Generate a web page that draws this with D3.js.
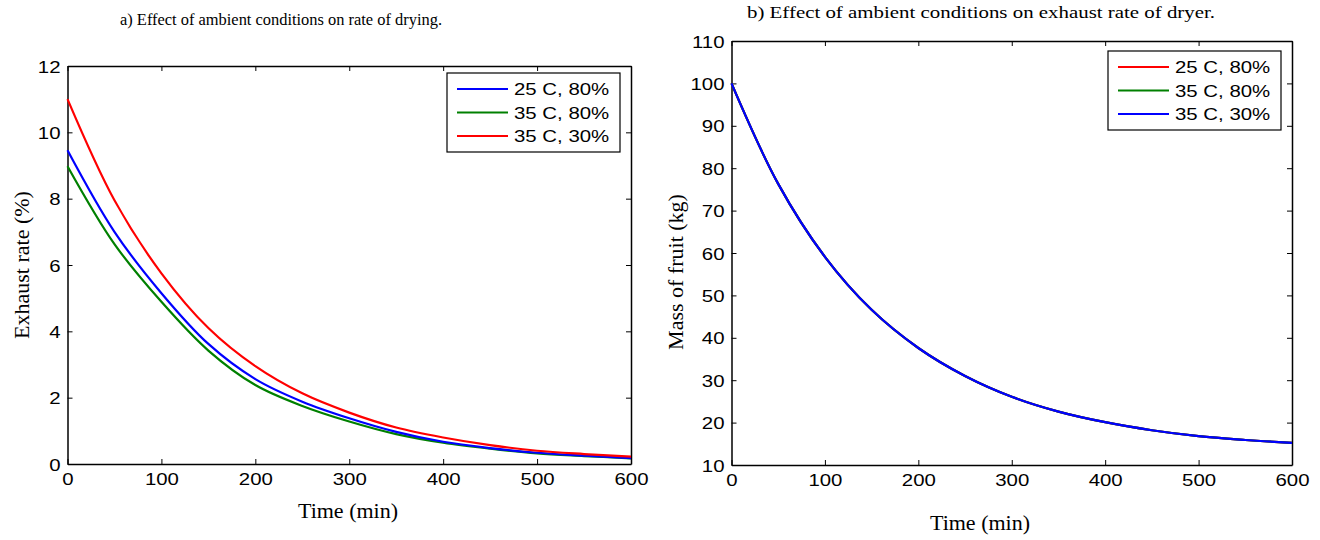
<!DOCTYPE html>
<html>
<head>
<meta charset="utf-8">
<script src="https://cdn.jsdelivr.net/npm/d3@7"></script>
<style>
  body { margin: 0; background: #fff; }
  svg { display: block; }
  .serif { font-family: "Times New Roman", "Liberation Serif", serif; fill: #000; }
  .sans { font-family: Arial, "Liberation Sans", sans-serif; fill: #000; }
</style>
</head>
<body>
<div id="chart"></div>
<script>
const timeMin = [0, 50, 100, 150, 200, 250, 300, 350, 400, 450, 500, 550, 600];

// a) exhaust rate (%)
const rate25C80 = [9.46, 7.0, 5.15, 3.62, 2.56, 1.88, 1.38, 0.97, 0.67, 0.48, 0.34, 0.25, 0.18];
const rate35C80 = [8.98, 6.63, 4.89, 3.42, 2.38, 1.75, 1.28, 0.90, 0.64, 0.46, 0.32, 0.24, 0.17];
const rate35C30 = [11.0, 7.95, 5.75, 4.10, 2.95, 2.13, 1.55, 1.10, 0.80, 0.57, 0.40, 0.30, 0.22];

// b) mass of fruit (kg) - the three runs lie on top of each other
const mass25C80 = [100, 76.3, 59.1, 46.6, 37.6, 31.0, 26.1, 22.6, 20.1, 18.2, 16.8, 15.9, 15.2];
const mass35C80 = [100, 76.3, 59.1, 46.6, 37.6, 31.0, 26.1, 22.6, 20.1, 18.2, 16.8, 15.9, 15.2];
const mass35C30 = [100, 76.3, 59.1, 46.6, 37.6, 31.0, 26.1, 22.6, 20.1, 18.2, 16.8, 15.9, 15.2];

const xTicks = [0, 100, 200, 300, 400, 500, 600];
const rateTicks = [0, 2, 4, 6, 8, 10, 12];
const massTicks = [10, 20, 30, 40, 50, 60, 70, 80, 90, 100, 110];

const width = 1320, height = 540;
const stretch = 1.2; // the source picture is a bit wider than tall

const svg = d3.select("#chart").append("svg")
    .attr("width", width)
    .attr("height", height);

// text squeezed/stretched horizontally around its anchor
function wideText(sel, x, y, txt, size, anchor) {
    return sel.append("text").attr("class", "sans")
        .attr("transform", `translate(${x},${y}) scale(${stretch},1)`)
        .attr("text-anchor", anchor)
        .attr("font-size", size)
        .text(txt);
}

// Draw one MATLAB-style panel
function panel(opt) {
    const x = d3.scaleLinear().domain([0, 600]).range([opt.left, opt.right]);
    const y = d3.scaleLinear().domain(opt.yDomain).range([opt.bottom, opt.top]);
    const g = svg.append("g");

    // inward ticks on all four sides
    const bx = g.append("g").attr("transform", `translate(0,${opt.bottom})`)
        .call(d3.axisBottom(x).tickValues(xTicks).tickSizeInner(-5).tickSizeOuter(0).tickFormat(""));
    g.append("g").attr("transform", `translate(0,${opt.top})`)
        .call(d3.axisTop(x).tickValues(xTicks).tickSizeInner(-5).tickSizeOuter(0).tickFormat(""));
    const ly = g.append("g").attr("transform", `translate(${opt.left},0)`)
        .call(d3.axisLeft(y).tickValues(opt.yTicks).tickSizeInner(-5).tickSizeOuter(0).tickFormat(""));
    g.append("g").attr("transform", `translate(${opt.right},0)`)
        .call(d3.axisRight(y).tickValues(opt.yTicks).tickSizeInner(-5).tickSizeOuter(0).tickFormat(""));
    g.selectAll(".domain").attr("stroke", "#000").attr("stroke-width", 1.5);
    g.selectAll(".tick line").attr("stroke", "#000");

    // tick labels, slightly wide like the source
    bx.selectAll(".tick").each(function(d) {
        wideText(d3.select(this), 0, 21, d, 17, "middle");
    });
    ly.selectAll(".tick").each(function(d) {
        wideText(d3.select(this), -7, 6, d, 17, "end");
    });

    const line = d3.line()
        .x((d, i) => x(timeMin[i]))
        .y(d => y(d))
        .curve(d3.curveCatmullRom);

    opt.series.forEach(s => {
        g.append("path")
            .attr("fill", "none")
            .attr("stroke", s.color)
            .attr("stroke-width", 2.2)
            .attr("d", line(s.values));
    });

    // titles and labels
    g.append("text").attr("class", "serif")
        .attr("x", opt.titleX).attr("y", opt.titleY)
        .attr("text-anchor", "middle").attr("font-size", opt.titleSize)
        .attr("textLength", opt.titleLen).attr("lengthAdjust", "spacingAndGlyphs")
        .text(opt.title);
    g.append("text").attr("class", "serif")
        .attr("x", opt.xLabelX).attr("y", opt.xLabelY)
        .attr("text-anchor", "middle").attr("font-size", 22)
        .text("Time (min)");
    g.append("text").attr("class", "serif")
        .attr("transform", `translate(${opt.yLabelX},${opt.yLabelY}) rotate(-90)`)
        .attr("text-anchor", "middle").attr("font-size", 22)
        .text(opt.yLabel);

    // legend
    const lg = g.append("g").attr("transform", `translate(${opt.legend[0]},${opt.legend[1]})`);
    lg.append("rect")
        .attr("width", 173).attr("height", 79)
        .attr("fill", "#fff").attr("stroke", "#000").attr("stroke-width", 1.2);
    opt.legendOrder.forEach((s, i) => {
        const yy = 16 + i * 23.5;
        lg.append("line")
            .attr("x1", 10).attr("x2", 61).attr("y1", yy).attr("y2", yy)
            .attr("stroke", s.color).attr("stroke-width", 2.2);
        wideText(lg, 67, yy + 6, s.name, 17, "start");
    });
}

const left = [
    { name: "25 C, 80%", color: "#0000ff", values: rate25C80 },
    { name: "35 C, 80%", color: "#008000", values: rate35C80 },
    { name: "35 C, 30%", color: "#ff0000", values: rate35C30 }
];
panel({
    left: 67.5, right: 631, top: 66, bottom: 464,
    yDomain: [0, 12], yTicks: rateTicks,
    series: [left[1], left[0], left[2]],
    legendOrder: left,
    legend: [447, 73],
    title: "a) Effect of ambient conditions on rate of drying.",
    titleX: 281, titleY: 25, titleSize: 16, titleLen: 322,
    xLabelX: 348, xLabelY: 518,
    yLabel: "Exhaust rate (%)", yLabelX: 29, yLabelY: 265
});

const right = [
    { name: "25 C, 80%", color: "#ff0000", values: mass25C80 },
    { name: "35 C, 80%", color: "#008000", values: mass35C80 },
    { name: "35 C, 30%", color: "#0000ff", values: mass35C30 }
];
panel({
    left: 731.5, right: 1292, top: 41, bottom: 465,
    yDomain: [10, 110], yTicks: massTicks,
    series: right,
    legendOrder: right,
    legend: [1108, 51],
    title: "b) Effect of ambient conditions on exhaust rate of dryer.",
    titleX: 981, titleY: 18, titleSize: 17, titleLen: 468,
    xLabelX: 980, xLabelY: 530,
    yLabel: "Mass of fruit (kg)", yLabelX: 683, yLabelY: 272
});
</script>
</body>
</html>
